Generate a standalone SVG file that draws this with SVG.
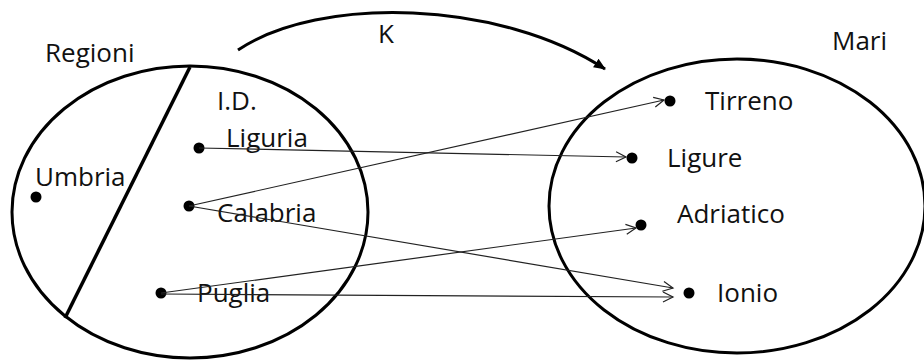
<svg xmlns="http://www.w3.org/2000/svg" width="924" height="362" viewBox="0 0 924 362">
<style>
text{font-family:"Open Sans","Liberation Sans",sans-serif;font-size:26px;fill:#111}
.set{fill:none;stroke:#000;stroke-width:3}
.dot{fill:#000}
.conn{fill:none;stroke:#222;stroke-width:1.2}
</style>
<defs>
<marker id="open" markerUnits="userSpaceOnUse" markerWidth="14" markerHeight="14" refX="11" refY="6" orient="auto" viewBox="0 0 14 12">
<path d="M1,1 L11,6 L1,11" fill="none" stroke="#222" stroke-width="1.2"/>
</marker>
<marker id="solid" markerUnits="userSpaceOnUse" markerWidth="14" markerHeight="12" refX="11" refY="6" orient="auto" viewBox="0 0 14 12">
<path d="M0,1 L12,6 L0,11 Z" fill="#000"/>
</marker>
</defs>
<g id="regioni">
<ellipse class="set" cx="190" cy="212" rx="178" ry="146"/>
<line x1="190" y1="67" x2="65" y2="318" stroke="#000" stroke-width="3.5"/>
<text x="45" y="62">Regioni</text>
<text x="217" y="110">I.D.</text>
</g>
<g id="mari">
<ellipse class="set" cx="737" cy="206" rx="188" ry="147"/>
<text x="832" y="50">Mari</text>
</g>
<g id="umbria"><circle class="dot" cx="36" cy="197" r="5.5"/><text x="35" y="186">Umbria</text></g>
<g id="liguria"><circle class="dot" cx="199" cy="148" r="5.5"/><text x="226" y="147">Liguria</text></g>
<g id="calabria"><circle class="dot" cx="189" cy="206" r="5.5"/><text x="217" y="222">Calabria</text></g>
<g id="puglia"><circle class="dot" cx="161" cy="293" r="5.5"/><text x="197" y="302">Puglia</text></g>
<g id="tirreno"><circle class="dot" cx="670" cy="101" r="5.5"/><text x="705" y="110">Tirreno</text></g>
<g id="ligure"><circle class="dot" cx="632" cy="158" r="5.5"/><text x="667" y="167">Ligure</text></g>
<g id="adriatico"><circle class="dot" cx="641" cy="225" r="5.5"/><text x="677" y="223">Adriatico</text></g>
<g id="ionio"><circle class="dot" cx="689" cy="293" r="5.5"/><text x="717" y="302">Ionio</text></g>
<g id="connectors">
<path d="M238,50 C320,-5 500,0 605,69" fill="none" stroke="#000" stroke-width="3" marker-end="url(#solid)"/>
<text x="378" y="43">K</text>
<line class="conn" x1="199" y1="148" x2="626" y2="157" marker-end="url(#open)"/>
<line class="conn" x1="189" y1="206" x2="664" y2="100" marker-end="url(#open)"/>
<line class="conn" x1="189" y1="206" x2="673" y2="288" marker-end="url(#open)"/>
<line class="conn" x1="161" y1="293" x2="636" y2="228" marker-end="url(#open)"/>
<line class="conn" x1="161" y1="294" x2="673" y2="297" marker-end="url(#open)"/>
</g>
</svg>
